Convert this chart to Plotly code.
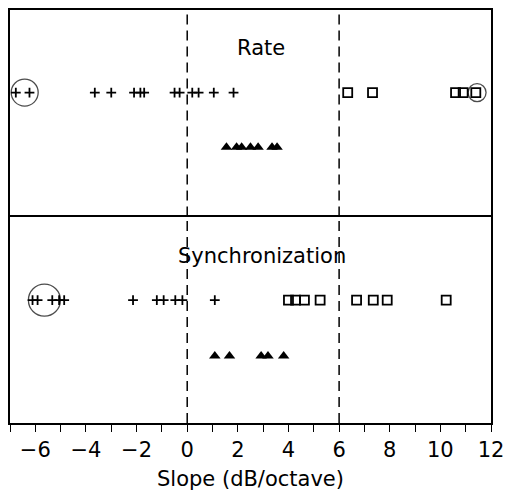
import plotly.graph_objects as go
from plotly.subplots import make_subplots

# ---- data (slopes in dB/octave) ----
rate_plus = [-6.77, -6.23, -3.65, -3.0, -2.1, -1.85, -1.7, -0.5, -0.3, 0.2, 0.45, 1.05, 1.83]
rate_square = [6.34, 7.32, 10.6, 10.9, 11.4]
rate_triangle = [1.55, 1.95, 2.15, 2.5, 2.8, 3.35, 3.55]
rate_circles = [-6.42, 11.45]

sync_plus = [-6.11, -5.91, -5.33, -5.06, -4.86, -2.14, -1.2, -0.93, -0.47, -0.19, 1.09]
sync_square = [4.0, 4.28, 4.63, 5.25, 6.69, 7.35, 7.9, 10.23]
sync_triangle = [1.09, 1.67, 2.92, 3.19, 3.81]
sync_circles = [-5.64]

# row levels within each panel (0..1)
row_levels = {"plus_square": 0.60, "triangle": 0.335}
sync_levels = {"plus_square": 0.595, "triangle": 0.325}
circle_sizes_rate = [27, 18]
circle_sizes_sync = [32]

x_ticks = [-6, -4, -2, 0, 2, 4, 6, 8, 10, 12]
x_range = [-7, 12]
ref_lines = [0, 6]
panel_titles = ["Rate", "Synchronization"]

FONT = "DejaVu Sans"

fig = make_subplots(rows=2, cols=1, shared_xaxes=True, vertical_spacing=0)


def add_panel(row, plus, square, tri, circles, csizes, levels):
    fig.add_trace(go.Scatter(
        x=plus, y=[levels["plus_square"]] * len(plus), mode="markers",
        marker=dict(symbol="cross-thin", size=7, line=dict(color="black", width=1.8)),
        showlegend=False), row=row, col=1)
    fig.add_trace(go.Scatter(
        x=square, y=[levels["plus_square"]] * len(square), mode="markers",
        marker=dict(symbol="square-open", size=9, color="black", line=dict(color="black", width=1.8)),
        showlegend=False), row=row, col=1)
    fig.add_trace(go.Scatter(
        x=tri, y=[levels["triangle"]] * len(tri), mode="markers",
        marker=dict(symbol="triangle-up", size=10, color="black", line=dict(width=0)),
        showlegend=False), row=row, col=1)
    fig.add_trace(go.Scatter(
        x=circles, y=[levels["plus_square"]] * len(circles), mode="markers",
        marker=dict(symbol="circle-open", size=csizes, color="black", line=dict(color="black", width=1.3)),
        showlegend=False), row=row, col=1)


add_panel(1, rate_plus, rate_square, rate_triangle, rate_circles, circle_sizes_rate, row_levels)
add_panel(2, sync_plus, sync_square, sync_triangle, sync_circles, circle_sizes_sync, sync_levels)

for r in (1, 2):
    for xv in ref_lines:
        fig.add_shape(type="line", x0=xv, x1=xv, y0=0, y1=1, xref="x", yref="y" if r == 1 else "y2",
                      line=dict(color="black", width=1.5, dash="10px,6px"))

fig.add_annotation(x=2.9, y=0.815, xref="x", yref="y", text=panel_titles[0], showarrow=False,
                   font=dict(family=FONT, size=21, color="black"))
fig.add_annotation(x=2.95, y=0.81, xref="x", yref="y2", text=panel_titles[1], showarrow=False,
                   font=dict(family=FONT, size=21, color="black"))

fig.update_xaxes(range=x_range, showgrid=False, zeroline=False)
fig.update_xaxes(row=1, col=1, showticklabels=False, ticks="", showline=True, linecolor="black",
                 linewidth=1.6, mirror=False, side="top")
fig.update_xaxes(row=2, col=1, showline=True, linecolor="black", linewidth=1.6, mirror=True,
                 tickvals=x_ticks, ticks="outside", ticklen=7, tickwidth=1.4, tickcolor="black",
                 minor=dict(dtick=1, ticks="outside", ticklen=7, tickwidth=1.4, tickcolor="black"),
                 tickfont=dict(family=FONT, size=21, color="black"),
                 title=dict(text="Slope (dB/octave)", font=dict(family=FONT, size=21, color="black"), standoff=10))
fig.update_yaxes(range=[0, 1], showticklabels=False, ticks="", showgrid=False, zeroline=False,
                 showline=True, linecolor="black", linewidth=1.6, mirror=True)

fig.update_layout(width=514, height=498, margin=dict(l=10, r=16, t=10, b=75),
                  plot_bgcolor="white", paper_bgcolor="white", showlegend=False)

fig.write_html("out.html")
